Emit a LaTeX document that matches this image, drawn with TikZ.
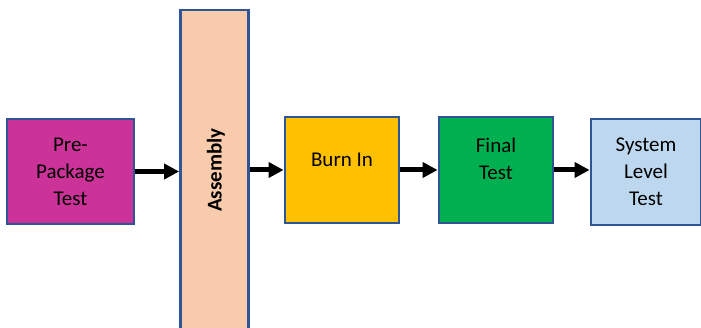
\documentclass[tikz,border=0pt]{standalone}
\usepackage{fontspec}
\setmainfont{Carlito}
\usetikzlibrary{arrows.meta}
\definecolor{edgeblue}{HTML}{2F5597}
\definecolor{prepkg}{HTML}{CC3399}
\definecolor{asmfill}{HTML}{F8CBAD}
\definecolor{burnfill}{HTML}{FFC000}
\definecolor{finalfill}{HTML}{00B050}
\definecolor{sysfill}{HTML}{BDD7EE}
\tikzset{
  stage/.style={draw=edgeblue, line width=2.8pt, rectangle, inner sep=0pt,
    align=center, font=\fontsize{21}{27}\selectfont},
  caption/.style={align=center, font=\fontsize{21}{27}\selectfont, inner sep=0pt},
  flow/.style={line width=5pt, -{Triangle[length=15pt,width=15pt]}, black}
}
\begin{document}
\begin{tikzpicture}[x=1pt,y=-1pt]
  \clip (0,0) rectangle (701,328);
  \fill[white] (0,0) rectangle (701,328);

  % process stages
  \node[stage, fill=prepkg, minimum width=127pt, minimum height=105pt]
    (pre) at (70.5,171.5) {Pre-\\Package\\Test};
  \node[stage, fill=asmfill, minimum width=68pt, minimum height=340pt]
    (asm) at (214.5,180) {};
  \node[font=\fontsize{21}{27}\selectfont\bfseries, rotate=90, inner sep=0pt]
    (asmtext) at (216,170) {Assembly};
  \node[stage, fill=burnfill, minimum width=114pt, minimum height=106pt,
    label={[caption, yshift=10pt]center:Burn In}]
    (burn) at (342,170) {};
  \node[stage, fill=finalfill, minimum width=114pt, minimum height=106pt,
    label={[caption, yshift=11pt]center:Final\\Test}]
    (final) at (496,170) {};
  \node[stage, fill=sysfill, minimum width=110pt, minimum height=106pt]
    (sys) at (646,172) {System\\Level\\Test};

  % flow arrows
  \draw[flow] (pre.east) -- (pre.east -| asm.west);
  \draw[flow] (asm.east |- burn.east) -- (burn.west);
  \draw[flow] (burn.east) -- (final.west);
  \draw[flow] (final.east) -- (final.east -| sys.west);
\end{tikzpicture}
\end{document}
